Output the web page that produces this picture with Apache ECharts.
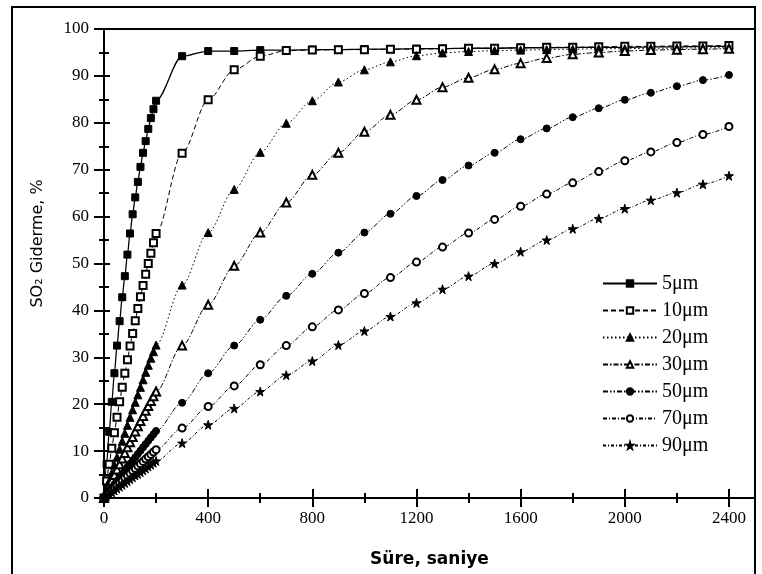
<!DOCTYPE html>
<html>
<head>
<meta charset="utf-8">
<script src="https://cdn.jsdelivr.net/npm/echarts@6/dist/echarts.min.js"></script>
<style>
  html, body { margin: 0; padding: 0; background: #fff; }
  #chart { width: 762px; height: 574px; }
</style>
</head>
<body>
<div id="chart"></div>
<script>
// zaman (s) - sık ölçüm 0-200, sonra her 100 s
const times = [0, 10, 20, 30, 40, 50, 60, 70, 80, 90, 100, 110, 120, 130, 140, 150, 160, 170, 180, 190, 200,
  300, 400, 500, 600, 700, 800, 900, 1000, 1100, 1200, 1300, 1400, 1500, 1600, 1700, 1800, 1900, 2000, 2100, 2200, 2300, 2400];

const s5 = [0, 7.2, 14.1, 20.5, 26.6, 32.5, 37.7, 42.8, 47.3, 51.9, 56.4, 60.5, 64.1, 67.4, 70.6, 73.6, 76.1, 78.7, 81.0, 82.9, 84.7,
  94.2, 95.3, 95.3, 95.5, 95.5, 95.6, 95.6, 95.7, 95.7, 95.8, 95.8, 95.9, 95.9, 96.0, 96.0, 96.1, 96.1, 96.1, 96.2, 96.2, 96.3, 96.3];
const s10 = [0, 3.6, 7.2, 10.6, 13.9, 17.2, 20.5, 23.6, 26.6, 29.5, 32.4, 35.1, 37.8, 40.4, 42.9, 45.3, 47.7, 50.0, 52.2, 54.4, 56.4,
  73.5, 84.9, 91.3, 94.2, 95.4, 95.5, 95.6, 95.6, 95.7, 95.7, 95.8, 95.9, 95.9, 96.0, 96.1, 96.1, 96.2, 96.3, 96.3, 96.4, 96.4, 96.5];
const s20 = [0, 1.8, 3.6, 5.3, 7.0, 8.7, 10.4, 12.1, 13.8, 15.5, 17.2, 18.8, 20.4, 22.0, 23.6, 25.2, 26.8, 28.3, 29.8, 31.2, 32.6,
  45.4, 56.6, 65.8, 73.7, 79.9, 84.7, 88.7, 91.3, 93.0, 94.3, 94.9, 95.2, 95.4, 95.5, 95.6, 95.7, 95.8, 95.8, 95.9, 95.9, 96.0, 96.0];
const s30 = [0, 1.2, 2.5, 3.7, 4.9, 6.1, 7.2, 8.4, 9.6, 10.8, 11.9, 13.0, 14.2, 15.3, 16.4, 17.5, 18.6, 19.6, 20.7, 21.7, 22.7,
  32.5, 41.2, 49.5, 56.6, 63.0, 68.9, 73.6, 78.1, 81.7, 84.9, 87.6, 89.6, 91.4, 92.7, 93.8, 94.6, 95.0, 95.3, 95.5, 95.6, 95.7, 95.8];
const s50 = [0, 0.7, 1.5, 2.2, 2.9, 3.7, 4.4, 5.1, 5.8, 6.6, 7.3, 8.0, 8.7, 9.4, 10.1, 10.8, 11.5, 12.2, 12.9, 13.6, 14.3,
  20.3, 26.6, 32.5, 38.0, 43.1, 47.8, 52.3, 56.6, 60.6, 64.4, 67.8, 70.9, 73.6, 76.5, 78.8, 81.2, 83.1, 84.9, 86.4, 87.8, 89.1, 90.2];
const s70 = [0, 0.5, 1.1, 1.6, 2.1, 2.7, 3.2, 3.7, 4.3, 4.8, 5.3, 5.8, 6.3, 6.8, 7.3, 7.8, 8.3, 8.8, 9.3, 9.8, 10.3,
  14.9, 19.5, 23.9, 28.4, 32.5, 36.5, 40.1, 43.6, 47.0, 50.3, 53.5, 56.5, 59.4, 62.2, 64.8, 67.2, 69.6, 71.9, 73.8, 75.8, 77.5, 79.2];
const s90 = [0, 0.4, 0.8, 1.2, 1.6, 2.0, 2.4, 2.8, 3.2, 3.6, 4.0, 4.4, 4.8, 5.1, 5.5, 5.9, 6.3, 6.7, 7.1, 7.5, 7.9,
  11.7, 15.6, 19.1, 22.7, 26.2, 29.2, 32.6, 35.6, 38.7, 41.6, 44.5, 47.3, 50.0, 52.5, 55.0, 57.4, 59.6, 61.7, 63.5, 65.1, 66.9, 68.7];

const names = ['5μm', '10μm', '20μm', '30μm', '50μm', '70μm', '90μm'];
const yTicks = [0, 10, 20, 30, 40, 50, 60, 70, 80, 90, 100];
const xTicks = [0, 400, 800, 1200, 1600, 2000, 2400];

const star = 'path://M50,0 L61,35 L98,35 L68,57 L79,91 L50,70 L21,91 L32,57 L2,35 L39,35 Z';

const chart = echarts.init(document.getElementById('chart'));

// seri tanımı
const makeSeries = (name, vals, symbol, size, dash, width) => ({
  name: name,
  type: 'line',
  xAxisIndex: 0,
  yAxisIndex: 0,
  data: times.map((t, i) => [t, vals[i]]),
  symbol: symbol,
  symbolSize: size,
  smooth: 0.3,
  smoothMonotone: 'x',
  showAllSymbol: true,
  lineStyle: {color: '#000', width: width, type: dash},
  itemStyle: {color: '#000', borderColor: '#000', borderWidth: 1},
  emphasis: {disabled: true}
});

const serif = 'Liberation Serif';
const labelX = {
  fontFamily: serif, fontSize: 17, color: '#000', margin: 12,
  formatter: v => (xTicks.indexOf(v) >= 0 ? String(v) : '')
};

// ekseni kesen çentikler için iç/dış eksen çiftleri
const xBase = {type: 'value', min: 0, max: 2500, position: 'bottom', splitLine: {show: false}};
const yBase = {type: 'value', min: 0, max: 100, interval: 10, position: 'left', splitLine: {show: false}};

chart.setOption({
  animation: false,
  backgroundColor: '#fff',
  grid: {
    left: 104, right: 7, top: 29, bottom: 76,
    show: true, borderColor: '#000', borderWidth: 2, backgroundColor: 'transparent'
  },
  graphic: [{
    type: 'rect',
    shape: {x: 12, y: 7, width: 743, height: 620},
    style: {fill: 'none', stroke: '#000', lineWidth: 2},
    silent: true
  }],
  legend: {
    orient: 'vertical',
    left: 597, top: 268,
    itemWidth: 54, itemHeight: 8, itemGap: 6,
    data: names,
    textStyle: {fontFamily: serif, fontSize: 20, color: '#000', lineHeight: 21, padding: [0, 0, 0, 0]},
    selectedMode: false
  },
  xAxis: [
    Object.assign({}, xBase, {
      interval: 400,
      name: 'Süre, saniye', nameLocation: 'middle', nameGap: 53,
      nameTextStyle: {fontFamily: 'DejaVu Sans', fontWeight: 'bold', fontSize: 17, color: '#000'},
      axisLine: {show: true, lineStyle: {color: '#000', width: 2}},
      axisTick: {show: true, inside: false, length: 9, lineStyle: {color: '#000', width: 2}},
      axisLabel: labelX
    }),
    Object.assign({}, xBase, {
      interval: 400,
      axisLine: {show: false},
      axisTick: {show: true, inside: true, length: 9, lineStyle: {color: '#000', width: 2}},
      axisLabel: {show: false}
    }),
    Object.assign({}, xBase, {
      interval: 200,
      axisLine: {show: false},
      axisTick: {show: true, inside: false, length: 5, lineStyle: {color: '#000', width: 2}},
      axisLabel: {show: false}
    }),
    Object.assign({}, xBase, {
      interval: 200,
      axisLine: {show: false},
      axisTick: {show: true, inside: true, length: 5, lineStyle: {color: '#000', width: 2}},
      axisLabel: {show: false}
    })
  ],
  yAxis: [
    Object.assign({}, yBase, {
      name: 'SO₂ Giderme, %', nameLocation: 'middle', nameGap: 58,
      nameTextStyle: {fontFamily: 'DejaVu Sans', fontSize: 16, color: '#000', padding: [0, 0, 0, 40]},
      axisLine: {show: true, lineStyle: {color: '#000', width: 2}},
      axisTick: {show: true, inside: false, length: 10, lineStyle: {color: '#000', width: 2}},
      minorTick: {show: true, splitNumber: 2, length: 5, lineStyle: {color: '#000', width: 2}},
      axisLabel: {
        fontFamily: serif, fontSize: 17, color: '#000', margin: 15,
        formatter: v => (yTicks.indexOf(v) >= 0 ? String(v) : '')
      }
    }),
    Object.assign({}, yBase, {
      axisLine: {show: false},
      axisTick: {show: true, inside: true, length: 6, lineStyle: {color: '#000', width: 2}},
      minorTick: {show: true, splitNumber: 2, length: 5, lineStyle: {color: '#000', width: 2}},
      axisLabel: {show: false}
    })
  ],
  series: [
    makeSeries(names[0], s5, 'rect', 7, 'solid', 1.3),
    makeSeries(names[1], s10, 'emptyRect', 7, [5, 3], 1),
    makeSeries(names[2], s20, 'triangle', 8, [1.5, 2.5], 1),
    makeSeries(names[3], s30, 'emptyTriangle', 8, [5, 2, 1.5, 2], 1),
    makeSeries(names[4], s50, 'circle', 7, [5, 2, 1.5, 2, 1.5, 2], 1),
    makeSeries(names[5], s70, 'emptyCircle', 7, [4, 2, 1, 2], 1),
    makeSeries(names[6], s90, star, 9, [3, 2, 1, 2], 1)
  ]
});
</script>
</body>
</html>
